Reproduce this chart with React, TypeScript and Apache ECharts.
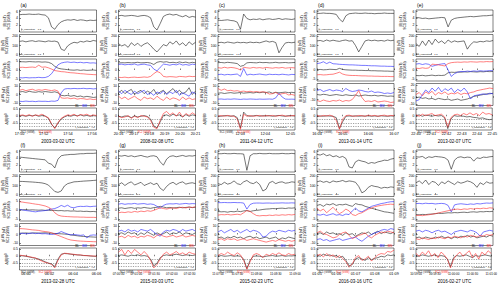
import React, { useEffect, useRef } from "react";
import * as echarts from "echarts";

// ---------- panel meta ----------
const PANEL_IDS = ["a", "b", "c", "d", "e", "f", "g", "h", "i", "j"];
const PANEL_DATES = ["2003-03-02 UTC", "2008-02-08 UTC", "2011-04-12 UTC", "2013-01-14 UTC", "2013-02-07 UTC",
  "2013-02-28 UTC", "2015-03-03 UTC", "2015-02-23 UTC", "2016-03-16 UTC", "2016-02-27 UTC"];
const PANEL_START = ["17:50:00", "20:16:00", "12:02:07", "16:04:00", "22:40:00", "05:59:27", "07:00:30", "11:07:00", "01:05:00", "10:59:00"];
const PANEL_END = ["17:56:22", "20:21:00", "12:05:11", "16:07:00", "22:45:00", "06:06:00", "07:02:40", "11:09:00", "01:09:00", "11:01:00"];
const TICKS_A = ["17:50:00", "17:52:00", "17:54:00", "17:56:00"];
const TICKS_B = ["20:16:00", "20:17:00", "20:18:00", "20:19:00", "20:20:00", "20:21:00"];
const TICKS_C = ["12:03:00", "12:04:00", "12:05:00"];
const TICKS_D = ["16:04:00", "16:05:00", "16:06:00", "16:07:00"];
const TICKS_E = ["22:40:00", "22:41:00", "22:42:00", "22:43:00", "22:44:00", "22:45:00"];
const TICKS_F = ["06:00:00", "06:02:00", "06:04:00", "06:06:00"];
const TICKS_G = ["07:00:30", "07:01:00", "07:01:30", "07:02:00", "07:02:30"];
const TICKS_H = ["11:07:00", "11:07:30", "11:08:00", "11:08:30", "11:09:00"];
const TICKS_I = ["01:05:00", "01:06:00", "01:07:00", "01:08:00", "01:09:00"];
const TICKS_J = ["10:59:00", "10:59:30", "11:00:00", "11:00:30", "11:01:00"];
const TIME_FMT = ["hm", "hm", "hm", "hm", "hm", "hm", "hms", "hms", "hm", "hms"];

// y ranges
const B1_RANGE = [0, 6.5]; const B1_TICKS = [2, 4, 6];
const B2_RANGE = [-20, 220]; const B2_TICKS = [0, 100, 200];
const L1_RANGE = [-6, 6]; const L1_TICKS = [-5, 0, 5];
const L2_MIN = [-13, -13, -13, -16, -12, -13, -13, -13, -13, -13];
const L2_MAX = [13, 13, 13, 6, 22, 13, 13, 13, 13, 13];
const L2_TICKS_STD = [-10, 0, 10];
const L2_TICKS_D = [-10, 0];
const L2_TICKS_E = [-10, 0, 10, 20];
const R_RANGE = [-1, 0.6]; const R_TICKS = [-0.5, 0, 0.5];
const DASH_LEVELS = [-0.25, -0.5, -0.75];

// ---------- data ----------
// (a)
const a1 = [5.1,5.2,5.2,5.3,5.2,5.2,5.3,5.1,5.0,4.2,1.5,0.8,2.2,3.0,3.4,3.6,3.5,3.7,3.4,3.6,3.5,3.3,3.5,3.4,3.5];
const a2 = [145,150,140,148,152,143,150,146,140,150,145,148,138,60,45,95,120,135,128,145,138,150,142,155,148];
const a3L = [4.5,4.5,4.4,4.6,4.5,4.4,4.5,4.3,4.4,4.2,3.5,2.0,1.0,0.6,0.4,0.2,0.0,-0.1,0.1,-0.2,0.0,-0.2,-0.1,0.0,-0.2];
const a3M = [-4.2,-4.3,-4.1,-4.3,-4.2,-4.2,-4.0,-4.2,-4.1,-3.5,-2.0,0.5,2.8,3.8,4.2,4.4,4.1,4.3,4.0,4.2,3.9,4.1,3.8,3.9,3.7];
const a3N = [1.4,1.5,1.3,1.5,1.6,1.4,2.6,1.5,1.7,1.2,0.5,-0.3,-0.6,-0.9,-1.0,-1.3,-1.5,-1.6,-1.8,-2.0,-2.1,-2.3,-2.4,-2.5,-2.6];
const a4L = [3,3.5,2.5,3.8,3,2.6,3.4,2.8,3.5,3,2.5,3.2,2,-1,-1.5,-1,-2,-1.2,-2.5,-1.8,-3,-2.2,-2.8,-3.5,-3];
const a4M = [-8,-8.3,-7.8,-8.2,-8,-8.4,-7.9,-8.1,-8,-8.3,-7.8,-8,-7,2,6.5,7,6.8,7.2,6.9,7,7.3,6.8,7.1,6.6,7];
const a4N = [5,6,4.5,5.5,6.2,4.8,5.6,5,6,5.2,4.6,5.4,4,-4,-4.5,-4,-5,-4.2,-5.5,-4.8,-5,-5.8,-5.2,-6,-5.5];
const a5A = [0.02,0.05,0.0,0.06,0.03,0.08,0.0,0.05,0.02,-0.15,-0.6,-0.85,-0.5,-0.2,-0.05,0.05,0.0,0.08,0.03,0.1,0.02,0.06,0.0,0.04,0.02];
const a5B = [0.05,0.1,0.02,0.12,0.0,0.1,0.05,0.15,0.0,-0.1,-0.55,-0.9,-0.45,-0.15,0.0,0.1,0.05,0.15,0.0,0.12,0.08,0.15,0.02,0.1,0.05];
// (b)
const b1 = [4.8,4.9,4.7,4.8,4.9,4.8,4.6,4.8,4.9,4.7,4.2,1.5,0.6,2.5,4.6,5.1,5.3,5.0,5.2,4.8,4.5,4.9,4.3,4.6,4.4];
const b2 = [120,95,110,80,130,100,125,90,115,130,100,60,30,70,110,95,140,115,150,105,130,95,140,110,135];
const b3L = [3.8,4.0,3.9,4.1,3.9,4.0,4.2,3.9,4.0,4.1,3.8,3.0,4.2,4.6,4.3,4.5,4.0,4.2,3.9,4.4,4.0,4.3,3.8,4.2,3.9];
const b3M = [3.0,3.2,2.8,3.1,2.9,3.3,2.7,3.0,3.2,2.8,2.5,0.5,-0.5,1.5,3.2,3.0,2.6,3.1,2.8,3.4,2.7,3.0,2.6,3.2,2.9];
const b3N = [-4.0,-4.1,-3.9,-4.2,-4.0,-3.9,-4.1,-4.0,-3.8,-4.0,-3.5,-2.0,-0.8,-1.5,-3.5,-3.8,-3.6,-3.7,-3.9,-3.5,-3.6,-3.8,-3.4,-3.6,-3.5];
const b4L = [2,5,1,4,6,0,3,5,1,4,2,6,0,3,5,1,4,7,2,5,1,3,8,0,4];
const b4M = [4,1,5,2,0,4,1,3,5,0,2,-1,3,1,4,0,3,1,5,-1,2,0,-2,3,1];
const b4N = [-2,-5,-3,-6,-4,-2,-5,-7,-3,-5,-4,-6,-2,-5,-7,-3,-6,-4,-5,-7,-3,-6,-4,-6,-5];
const b5A = [0.0,-0.05,0.02,0.0,-0.1,0.03,-0.05,0.0,0.05,-0.02,-0.2,-0.7,-0.85,-0.4,0.05,0.1,0.0,0.15,0.05,0.1,-0.05,0.12,0.0,0.1,0.05];
const b5B = [0.0,-0.1,-0.05,0.05,-0.15,0.0,-0.1,0.05,0.0,-0.05,-0.3,-0.8,-0.9,-0.3,0.2,0.35,0.1,0.25,0.0,0.3,-0.05,0.2,0.05,0.25,0.1];
// (c)
const c1 = [3.5,3.4,3.5,3.6,3.4,3.3,2.9,0.8,5.3,4.0,3.6,3.8,3.7,3.9,3.6,3.8,3.9,3.7,3.8,4.0,3.7,3.9,3.8,3.7,3.9];
const c2 = [130,135,128,138,132,126,136,130,134,128,137,131,135,129,140,150,138,145,132,20,80,128,134,130,136];
const c3L = [4.0,4.1,3.9,4.2,4.0,3.8,3.5,2.0,2.5,3.9,4.1,4.0,3.9,4.2,4.0,4.1,3.9,4.0,4.2,3.9,4.0,4.1,3.9,4.0,4.1];
const c3M = [-2.5,-2.3,-2.7,-2.4,-2.6,-2.4,-2.2,-3.5,0.8,-2.8,-2.3,-2.6,-2.4,-2.2,-2.5,-2.7,-2.3,-2.5,-2.4,-2.6,-2.3,-2.5,-2.7,-2.4,-2.5];
const c3N = [1.3,1.0,1.5,1.1,1.4,1.2,0.8,0.0,1.5,1.2,1.0,1.4,1.1,1.3,1.0,1.4,1.2,1.0,1.3,1.1,1.4,1.0,1.2,1.3,1.1];
const c4L = [1.5,2.0,1.2,1.8,2.2,1.5,1.9,2.4,1.6,2.0,2.3,1.8,2.5,2.1,2.8,2.4,3.0,1.5,2.6,2.0,2.4,2.8,2.2,2.6,2.0];
const c4M = [-5.5,-5.3,-5.7,-5.4,-5.6,-5.2,-5.5,-5.8,-5.4,-5.6,-5.3,-5.5,-5.7,-5.4,-5.6,-5.5,-5.3,-5.6,-4,1.5,-3,-5.4,-5.6,-5.5,-5.7];
const c4N = [7,5,6.5,4.5,5,4,4.5,3.5,4,3.2,3.8,3,3.5,2.8,3.2,2.5,0.5,1,2.5,0,1,1.5,-0.5,0,-1];
const c5A = [0.02,0.0,0.05,0.03,0.0,0.04,-0.1,-0.85,0.3,0.05,0.0,0.03,0.06,0.0,0.04,0.02,0.05,0.0,0.03,0.06,0.02,0.0,0.05,0.03,0.02];
const c5B = [0.0,0.05,0.0,0.06,0.02,0.0,-0.2,-0.95,0.15,0.0,0.05,0.0,0.03,0.06,0.0,0.05,0.02,0.06,0.0,0.04,0.08,0.02,0.0,0.05,0.04];
// (d)
const d1 = [5.5,5.5,5.6,5.5,5.5,5.4,5.2,3.8,3.0,4.8,5.4,5.5,5.6,5.5,5.5,5.6,5.5,5.5,5.4,5.5,5.5,5.6,5.5,5.5,5.5];
const d2 = [150,155,145,160,148,158,150,145,155,160,148,152,100,30,90,150,160,152,158,150,155,148,160,152,158];
const d3L = [0.2,0.3,0.1,0.2,0.4,0.3,0.2,0.9,0.3,0.1,0.0,-0.1,-0.1,-0.2,-0.2,-0.3,-0.3,-0.4,-0.4,-0.5,-0.5,-0.6,-0.6,-0.7,-0.7];
const d3M = [3.5,3.8,4.5,3.5,4.3,3.4,3.3,3.1,3.0,2.9,2.8,2.8,2.7,2.6,2.5,2.5,2.4,2.3,2.3,2.2,2.1,2.1,2.0,2.0,1.9];
const d3N = [-2.6,-2.5,-2.7,-2.6,-2.4,-2.3,-1.8,-1.2,-2.2,-2.7,-2.9,-3.0,-3.0,-3.1,-3.2,-3.2,-3.3,-3.3,-3.4,-3.4,-3.5,-3.5,-3.5,-3.6,-3.6];
const d4L = [-5,-5.5,-4.8,-5.2,-6,-5.5,-5,-5.6,-6,-5.2,-5.8,-6,-5.5,-6.5,-6,-5.5,-6,-6.2,-5.8,-6.5,-6,-6.3,-6.8,-6.5,-6.8];
const d4M = [-1,0,-2,-1,0,-1.5,-0.5,-1,-2,1,-1,-2,-1.5,-0.5,-1,-2,-2.5,-1.5,-3,-2.5,-3,-4,-3.5,-4,-3];
const d4N = [-11,-12,-10.5,-11.5,-12,-11,-11.5,-10.5,-12,-11,-11.5,-10,-6,-1,-8,-12,-11.5,-12,-11,-12.5,-12,-11.5,-12,-13,-12.5];
const d5A = [0.0,0.02,0.0,0.03,0.01,0.0,-0.1,-0.9,-0.4,0.0,0.02,0.0,0.03,0.0,0.02,0.01,0.03,0.0,0.02,0.0,0.03,0.01,0.0,0.02,0.01];
const d5B = [0.05,0.0,0.06,0.02,0.08,0.0,-0.3,-0.95,-0.2,0.05,0.08,0.02,0.0,0.06,0.04,0.0,0.08,0.03,0.06,0.0,0.05,0.08,0.02,0.06,0.04];
// (e)
const e1 = [4.3,4.2,4.0,4.1,3.9,4.0,4.1,4.2,4.3,4.2,1.5,3.5,4.0,4.2,4.3,4.4,4.5,4.6,4.5,4.6,4.7,4.8,4.8,4.9,5.0];
const e2 = [120,90,150,100,160,110,170,130,150,120,160,135,150,140,145,150,60,110,140,135,145,140,150,145,155];
const e3L = [-3.0,-3.1,-2.9,-3.2,-3.0,-2.8,-3.1,-2.9,-3.0,-2.8,-1.5,-1.2,-1.3,-1.1,-1.2,-1.0,-1.1,-0.9,-1.0,-1.1,-0.9,-1.0,-0.8,-0.9,-0.8];
const e3M = [3.2,3.5,3.0,3.4,3.1,2.0,2.5,3.0,3.3,3.5,0.0,-3.5,-2.0,-1.2,-0.8,-0.9,-0.6,-0.8,-0.5,-0.7,-0.4,-0.6,-0.5,-0.3,-0.4];
const e3N = [1.0,0.8,1.2,0.9,1.1,3.2,3.0,2.8,2.5,2.2,3.5,4.0,4.2,4.3,4.2,4.4,4.3,4.5,4.4,4.3,4.5,4.4,4.6,4.5,4.6];
const e4L = [0,1,-1,0,-2,-1,-3,-1,-2,-3,-2,-4,-3,-2,-4,-3,-2,0,2,3,4,5,6,6,7];
const e4M = [-5,-3,5,12,8,15,10,16,9,14,11,15,8,13,10,15,9,-2,3,4,5,6,5,7,6];
const e4N = [5,8,3,9,6,10,4,8,6,9,5,7,6,8,5,7,6,8,9,11,12,13,14,15,14];
const e5A = [0.05,0.1,0.0,0.08,0.05,0.0,0.06,0.02,0.05,-0.1,-0.9,-0.2,0.05,0.0,0.02,0.0,-0.05,-0.02,-0.08,-0.1,-0.15,-0.12,-0.2,-0.25,-0.22];
const e5B = [0.1,0.0,0.15,0.05,0.12,0.2,0.05,0.1,0.15,-0.05,-0.8,-0.1,0.1,0.15,0.05,0.2,0.1,0.25,0.1,0.2,0.05,0.3,0.15,0.2,0.1];
// (f)
const f1 = [4.4,4.3,4.2,4.1,4.0,3.9,3.8,3.7,3.6,2.6,2.3,1.2,3.8,4.8,5.0,5.1,5.2,5.2,5.3,5.4,5.4,5.5,5.5,5.5,5.6];
const f2 = [145,144,142,140,138,135,132,128,120,105,70,35,25,40,95,120,130,140,142,145,148,150,152,155,158];
const f3L = [0.2,0.1,0.2,0.0,0.1,0.0,-0.1,0.0,-0.2,-0.1,-0.3,-0.2,-0.4,-0.3,-0.5,-0.4,-0.6,-0.5,-0.7,-0.6,-0.8,-0.7,-0.9,-0.8,-1.0];
const f3M = [0.3,0.0,-0.3,-0.5,-0.8,-1.0,-0.7,-0.5,-0.3,0.0,0.5,0.8,1.5,2.5,1.8,2.6,1.5,1.2,1.8,2.0,1.9,2.1,1.8,2.0,2.1];
const f3N = [4.5,4.3,4.0,3.8,3.5,3.2,3.0,2.6,2.2,1.5,0.5,-1.5,-2.8,-3.3,-3.5,-3.6,-3.7,-3.8,-3.8,-3.9,-3.9,-4.0,-4.0,-4.0,-4.1];
const f4L = [1.5,1.6,1.8,1.5,1.7,1.9,1.6,1.8,2.0,1.7,1.5,1.2,1.0,0.8,0.5,0.2,-0.5,-1.0,-1.5,-2.0,-2.3,-2.5,-2.8,-3.0,-3.2];
const f4M = [1.0,1.5,0.8,1.2,1.8,1.0,1.5,0.8,1.0,0.5,0.0,0.5,1.5,3.5,2.0,0.5,-0.5,0.0,-0.5,-1.0,-0.5,-4.0,-1.0,-0.5,-0.8];
const f4N = [7,6.8,6.5,6.0,5.5,5.2,4.8,4.0,3.5,3.0,2.0,0.5,-1.0,-2.5,-4.0,-5.5,-6.5,-7,-7.5,-7.8,-8,-8.2,-8.3,-8.5,-8.6];
const f5A = [0.05,0.03,0.0,-0.05,-0.1,-0.15,-0.2,-0.3,-0.4,-0.5,-0.55,-0.75,-0.2,0.15,0.2,0.18,0.15,0.12,0.1,0.08,0.05,0.05,0.02,0.0,0.0];
const f5B = [0.08,0.05,0.02,-0.03,-0.08,-0.12,-0.25,-0.35,-0.45,-0.5,-0.6,-0.85,-0.3,0.1,0.22,0.2,0.16,0.14,0.1,0.1,0.06,0.04,0.03,0.02,0.0];
// (g)
const g1 = [4.8,4.7,4.9,4.6,4.8,4.5,4.7,4.9,4.6,4.4,4.7,4.8,4.5,3.0,2.0,3.8,4.6,4.8,4.5,4.7,4.9,4.6,4.8,4.7,4.9];
const g2 = [110,130,100,125,140,105,120,135,100,115,130,110,125,70,45,90,120,135,110,130,140,115,125,130,120];
const g3L = [1.0,1.2,0.8,1.1,1.3,0.9,1.2,1.0,1.4,1.1,0.9,1.3,1.5,2.0,1.6,1.2,1.4,1.1,1.3,1.5,1.2,1.4,1.6,1.3,1.5];
const g3M = [3.2,3.5,3.1,3.4,3.3,3.6,3.2,3.4,3.5,3.1,3.3,3.0,2.0,1.0,2.5,3.2,3.4,3.3,3.5,3.2,3.4,3.6,3.3,3.5,3.4];
const g3N = [-1.5,-1.2,-1.4,-1.0,-1.3,-0.8,-1.1,-0.6,-0.9,-0.4,-0.7,-0.2,0.5,1.2,0.8,0.5,0.9,1.2,0.8,1.3,1.5,1.1,1.6,1.4,1.8];
const g4L = [1,2,0,3,1,2,-1,2,0,3,1,-1,2,0,1,3,0,2,1,3,0,2,1,0,2];
const g4M = [4,5,3,6,4,5,3,6,5,4,6,3,0,-2,3,5,4,6,5,3,6,4,5,6,4];
const g4N = [-3,-2,-4,-1,-3,-2,-4,-2,-3,-1,-2,-4,-1,0,-2,-3,-2,-1,-3,-2,-1,-3,-2,-1,-2];
const g5A = [0.05,0.1,0.05,0.0,0.08,0.05,0.1,0.02,0.05,0.0,-0.2,-0.7,-0.5,-0.1,0.05,0.1,0.05,0.1,0.15,0.1,0.05,0.1,0.08,0.05,0.1];
const g5B = [0.3,0.5,0.1,0.45,0.2,0.5,0.3,0.1,0.35,0.1,-0.3,-0.85,-0.6,-0.2,0.15,0.3,0.1,0.2,0.35,0.15,0.25,0.1,0.3,0.2,0.15];
// (h)
const h1 = [5.4,5.4,5.5,5.4,5.4,5.5,5.4,5.4,5.3,0.5,4.8,5.4,5.4,5.5,5.4,5.4,5.5,5.4,5.4,5.4,5.5,5.4,5.4,5.5,5.4];
const h2 = [120,110,135,115,125,150,120,110,140,155,130,120,140,110,40,60,130,145,120,135,140,125,130,140,135];
const h3L = [-0.8,-1.0,-0.9,-1.2,-0.8,-1.0,-0.6,-0.9,-0.5,-0.3,-0.8,-0.4,-0.2,0.0,0.3,0.5,0.6,0.8,0.7,0.9,1.0,0.8,1.1,1.0,1.2];
const h3M = [4.0,4.0,4.1,4.0,4.0,4.1,4.0,4.0,3.8,0.5,3.0,3.7,3.8,3.8,3.7,3.8,3.8,3.7,3.8,3.8,3.9,3.8,3.8,3.9,3.8];
const h3N = [-2.8,-2.5,-2.6,-2.4,-2.7,-2.5,-2.3,-2.6,-1.5,-0.3,-0.8,-2.0,-3.0,-3.2,-3.0,-3.1,-2.8,-3.0,-2.7,-2.9,-2.6,-2.8,-2.5,-2.7,-2.4];
const h4L = [-4,-3,-5,-3,-4,-2,-4,-3,-5,-3,-2,-4,-3,-5,-4,-3,-5,-4,-3,-6,-4,-5,-3,-4,-5];
const h4M = [3,5,2,4,6,3,5,2,4,6,3,5,4,2,-3,-2,2,4,3,5,4,3,5,4,5];
const h4N = [-6,-5,-7,-5,-6,-5,-7,-6,-5,-7,-6,-5,-6,-7,-8,-9,-8,-7,-8,-6,-7,-8,-7,-8,-7];
const h5A = [0.0,0.05,0.0,0.02,0.05,0.0,0.03,0.0,-0.2,-0.9,-0.3,0.0,0.02,0.0,-0.05,0.0,0.03,0.05,0.0,0.02,0.05,0.0,0.03,0.02,0.05];
const h5B = [0.05,0.2,0.1,0.3,0.15,0.05,0.25,0.1,-0.3,-0.95,-0.4,0.1,0.2,0.1,-0.1,0.15,0.05,0.2,0.1,0.25,0.1,0.05,0.2,0.1,0.15];
// (i)
const i1 = [5.2,5.0,5.4,4.8,5.1,4.5,4.8,4.3,4.6,4.0,1.5,1.2,3.0,3.5,3.2,3.0,2.5,2.8,2.6,3.0,3.2,3.5,3.4,3.8,4.0];
const i2 = [140,150,135,145,130,150,140,145,155,140,150,145,135,90,20,40,80,100,90,85,70,80,75,85,80];
const i3L = [2.5,3.0,2.0,3.2,2.8,3.5,2.5,3.0,2.8,3.2,2.5,2.0,3.5,3.0,2.8,2.0,1.5,1.0,0.5,0.0,-0.5,-1.0,-1.2,-1.5,-1.8];
const i3M = [-2.5,-2.8,-2.3,-3.0,-2.5,-2.0,-2.8,-2.5,-3.0,-2.2,-2.5,-0.5,1.0,-0.5,-1.0,0.0,1.0,2.0,2.5,3.0,3.5,3.8,4.2,4.5,4.6];
const i3N = [1.0,-0.5,0.5,-1.5,0.0,1.5,-0.5,-2.0,-1.0,0.5,-0.5,-2.5,-3.0,-2.0,-1.5,-0.5,0.5,1.0,1.8,2.2,2.5,2.8,3.0,3.2,3.0];
const i4L = [1,2,0,3,1,2,0,1,-1,2,0,1,-2,0,2,1,3,0,2,4,1,3,2,1,3];
const i4M = [-6,-5,-7,-6,-8,-7,-6,-5,-7,-6,-5,-4,-3,-6,-8,-5,-2,0,2,3,5,6,5,7,6];
const i4N = [2,4,1,0,-2,-4,-3,0,2,3,-1,-5,-3,-1,0,2,-2,-4,-1,1,3,2,4,3,2];
const i5A = [0.1,0.0,0.15,0.05,0.1,0.0,0.05,-0.1,0.0,-0.3,-0.7,-0.6,-0.2,-0.1,-0.2,-0.3,-0.1,-0.25,-0.15,-0.1,0.0,-0.05,0.1,0.05,0.1];
const i5B = [0.05,0.15,-0.05,0.2,0.0,0.1,-0.1,0.05,-0.15,-0.4,-0.8,-0.55,-0.1,0.05,-0.3,-0.2,0.0,-0.35,-0.1,0.1,0.2,0.15,0.35,0.3,0.45];
// (j)
const j1 = [4.5,4.4,4.6,4.0,4.5,4.3,4.6,4.5,4.4,4.2,3.5,0.8,3.5,4.3,4.5,4.2,4.4,4.3,3.2,4.2,4.0,4.4,4.3,4.5,4.6];
const j2 = [130,150,120,160,110,145,135,100,140,120,150,130,110,140,125,135,150,140,120,80,130,110,140,125,130];
const j3L = [-2.5,-2.6,-2.4,-2.5,-2.3,-2.2,-2.0,-1.8,-1.9,-1.7,-1.5,-1.6,-1.4,-1.5,-1.3,-1.2,-1.4,-1.1,-1.0,-1.2,-0.9,-1.0,-0.8,-0.9,-0.7];
const j3M = [3.5,3.6,3.4,3.7,3.5,3.6,3.3,3.5,3.6,3.4,2.5,-1.0,2.8,3.2,3.4,3.2,3.0,3.3,3.1,3.5,3.3,3.6,3.8,3.7,3.9];
const j3N = [-3.0,-2.9,-3.1,-2.8,-2.6,-2.3,-2.0,-1.6,-1.2,-0.8,-0.4,0.0,0.3,0.5,0.2,0.6,0.4,0.8,0.5,0.9,0.7,1.0,0.8,1.2,1.0];
const j4L = [-4,-3,-5,-3,-4,-5,-3,-4,-2,-4,-3,-5,-3,-4,-2,-3,-1,-3,-2,-4,-3,-2,-3,-1,-2];
const j4M = [4,5,3,5,4,2,4,5,3,4,2,0,3,4,5,4,3,5,4,2,-2,3,4,5,4];
const j4N = [-5,-6,-4,-5,-6,-4,-5,-3,-4,-5,-3,-4,-2,-3,-4,-2,-3,-1,-2,-3,-1,-2,0,-1,0];
const j5A = [0.05,0.0,0.1,0.05,0.0,0.05,0.1,0.0,0.05,0.0,-0.2,-0.75,-0.1,0.05,0.0,0.05,0.1,0.0,-0.1,0.05,0.0,0.05,0.1,0.05,0.0];
const j5B = [0.2,0.0,0.3,0.1,0.4,0.0,0.2,-0.1,0.3,0.1,-0.2,-0.85,-0.2,0.1,0.3,0.0,0.2,0.4,-0.1,0.2,-0.2,0.3,0.1,0.4,0.2];

// ---------- table assembled from the arrays ----------
const PANELS = [
  { ticks: TICKS_A, b1: a1, b2: a2, l1: [a3L, a3M, a3N], l2: [a4L, a4M, a4N], r: [a5A, a5B], l2t: L2_TICKS_STD },
  { ticks: TICKS_B, b1: b1, b2: b2, l1: [b3L, b3M, b3N], l2: [b4L, b4M, b4N], r: [b5A, b5B], l2t: L2_TICKS_STD },
  { ticks: TICKS_C, b1: c1, b2: c2, l1: [c3L, c3M, c3N], l2: [c4L, c4M, c4N], r: [c5A, c5B], l2t: L2_TICKS_STD },
  { ticks: TICKS_D, b1: d1, b2: d2, l1: [d3L, d3M, d3N], l2: [d4L, d4M, d4N], r: [d5A, d5B], l2t: L2_TICKS_D },
  { ticks: TICKS_E, b1: e1, b2: e2, l1: [e3L, e3M, e3N], l2: [e4L, e4M, e4N], r: [e5A, e5B], l2t: L2_TICKS_E },
  { ticks: TICKS_F, b1: f1, b2: f2, l1: [f3L, f3M, f3N], l2: [f4L, f4M, f4N], r: [f5A, f5B], l2t: L2_TICKS_STD },
  { ticks: TICKS_G, b1: g1, b2: g2, l1: [g3L, g3M, g3N], l2: [g4L, g4M, g4N], r: [g5A, g5B], l2t: L2_TICKS_STD },
  { ticks: TICKS_H, b1: h1, b2: h2, l1: [h3L, h3M, h3N], l2: [h4L, h4M, h4N], r: [h5A, h5B], l2t: L2_TICKS_STD },
  { ticks: TICKS_I, b1: i1, b2: i2, l1: [i3L, i3M, i3N], l2: [i4L, i4M, i4N], r: [i5A, i5B], l2t: L2_TICKS_STD },
  { ticks: TICKS_J, b1: j1, b2: j2, l1: [j3L, j3M, j3N], l2: [j4L, j4M, j4N], r: [j5A, j5B], l2t: L2_TICKS_STD },
];

// ---------- layout / style ----------
const COL_LEFT = [19.5, 118.5, 218, 317, 416];
const PW = 77;
const PH = 22;
const ROW_TOPS = [[10, 34.5, 59, 83.5, 108], [150, 174.5, 199, 223.5, 248]];
const K = "#1a1a1a";
const BLUE = "#2020ff";
const RED = "#ff2a2a";
const FONT = "Liberation Sans, Arial, sans-serif";

const toSec = (s: string) => {
  const [h, m, x] = s.split(":").map(Number);
  return h * 3600 + m * 60 + x;
};
const pad = (n: number) => (n < 10 ? "0" : "") + n;
const fmtTime = (v: number, f: string) => {
  const t = Math.round(v);
  const h = Math.floor(t / 3600), m = Math.floor((t % 3600) / 60), s = t % 60;
  return f === "hms" ? `${pad(h)}:${pad(m)}:${pad(s)}` : `${pad(h)}:${pad(m)}`;
};

const Y_NAMES = [
  "{n||B| (nT)}\n{n|SC1 (GSM)}",
  "{n||B| (nT)}\n{n|SC2 (GSM)}",
  "{n|B}{s|LMN}{n| (nT)}\n{n|SC1 (GSM)}",
  "{n|B}{s|LMN}{n| (nT)}\n{n|SC2 (GSM)}",
  "{n|Δ|B|/B}{s|0}",
];

function buildOption() {
  const grid: any[] = [], xAxis: any[] = [], yAxis: any[] = [], series: any[] = [], graphic: any[] = [];
  PANELS.forEach((p, pi) => {
    const col = pi % 5, row = Math.floor(pi / 5);
    const left = COL_LEFT[col];
    const tops = ROW_TOPS[row];
    const t0 = toSec(PANEL_START[pi]), t1 = toSec(PANEL_END[pi]);
    const ticks = p.ticks.map(toSec);
    const f = TIME_FMT[pi];
    const subs = [
      { lines: [p.b1], colors: [K], min: B1_RANGE[0], max: B1_RANGE[1], yt: B1_TICKS },
      { lines: [p.b2], colors: [K], min: B2_RANGE[0], max: B2_RANGE[1], yt: B2_TICKS },
      { lines: p.l1, colors: [K, BLUE, RED], min: L1_RANGE[0], max: L1_RANGE[1], yt: L1_TICKS },
      { lines: p.l2, colors: [K, BLUE, RED], min: L2_MIN[pi], max: L2_MAX[pi], yt: p.l2t },
      { lines: p.r, colors: [K, RED], min: R_RANGE[0], max: R_RANGE[1], yt: R_TICKS },
    ];
    graphic.push({ type: "text", x: left + 1, y: tops[0] - 8, style: { text: `(${PANEL_IDS[pi]})`, fontSize: 5, fill: "#000", fontFamily: FONT } });
    const plotBottom = tops[4] + PH;
    graphic.push({
      type: "text", x: left + PW / 2, y: plotBottom + 8.8,
      style: { text: PANEL_DATES[pi], fontSize: 4.5, fill: "#000", fontFamily: FONT, align: "center", verticalAlign: "top" },
    });
    subs.forEach((sp, si) => {
      const gi = grid.length;
      const top = tops[si];
      grid.push({ left, top, width: PW, height: PH, show: true, borderColor: "#000", borderWidth: 0.5, backgroundColor: "#fff", containLabel: false });
      xAxis.push({
        type: "value", gridIndex: gi, min: t0, max: t1,
        axisLine: { show: false },
        axisTick: { show: true, inside: true, length: 1.5, customValues: ticks, lineStyle: { color: "#000", width: 0.5 } },
        axisLabel: { show: si === 4, customValues: ticks, formatter: (v: number) => fmtTime(v, f), fontSize: f === "hms" ? 3.0 : 3.8, margin: 2.2, color: "#000", fontFamily: FONT },
        splitLine: { show: false },
      });
      yAxis.push({
        type: "value", gridIndex: gi, min: sp.min, max: sp.max,
        axisLine: { show: false },
        axisTick: { show: true, inside: true, length: 1.5, customValues: sp.yt, lineStyle: { color: "#000", width: 0.5 } },
        axisLabel: { customValues: sp.yt, fontSize: 3.4, margin: 1.5, color: "#000", fontFamily: FONT },
        splitLine: { show: false },
        name: Y_NAMES[si], nameLocation: "middle", nameRotate: 90, nameGap: 9,
        nameTextStyle: { fontFamily: FONT, rich: { n: { fontSize: 3.4, color: "#000", lineHeight: 4, fontFamily: FONT }, s: { fontSize: 2.6, color: "#000", lineHeight: 4, fontFamily: FONT } } },
      });
      sp.lines.forEach((vals, li) => {
        const n = vals.length;
        series.push({
          type: "line", xAxisIndex: gi, yAxisIndex: gi, showSymbol: false, symbol: "none", silent: true,
          lineStyle: { color: sp.colors[li], width: 0.6 },
          data: vals.map((v, i) => [t0 + (i * (t1 - t0)) / (n - 1), v]),
          markLine: si === 4 && li === 0 ? {
            silent: true, symbol: "none", label: { show: false },
            lineStyle: { color: "#444", type: [1.2, 1.2], width: 0.5 },
            data: DASH_LEVELS.map((y) => ({ yAxis: y })),
          } : undefined,
        });
      });
      const bottom = top + PH;
      if (si === 0 || si === 1) {
        graphic.push({ type: "line", shape: { x1: left + 2, y1: bottom - 1.5, x2: left + 2, y2: bottom - 3.5 }, style: { stroke: "#000", lineWidth: 0.4 } });
        graphic.push({ type: "text", x: left + 2.5, y: bottom - 4, style: { text: "t_resolution = 1 s", fontSize: 2.5, fill: "#000", fontFamily: FONT } });
      }
      if (si === 3) {
        graphic.push({
          type: "text", x: left + PW - 2, y: bottom - 5.5,
          style: {
            text: "{k|B}{ks|L} {b|B}{bs|M} {r|B}{rs|N}", align: "right", fontFamily: FONT,
            rich: {
              k: { fill: K, fontSize: 3.6 }, ks: { fill: K, fontSize: 2.6 },
              b: { fill: BLUE, fontSize: 3.6 }, bs: { fill: BLUE, fontSize: 2.6 },
              r: { fill: RED, fontSize: 3.6 }, rs: { fill: RED, fontSize: 2.6 },
            },
          },
        });
      }
      if (si === 4) {
        graphic.push({
          type: "text", x: left + 1.5, y: bottom - 4,
          style: { text: "{k|SC1 (GSM),} {r|SC2 (GSM)}", fontFamily: FONT, rich: { k: { fill: K, fontSize: 2.6 }, r: { fill: RED, fontSize: 2.6 } } },
        });
        graphic.push({ type: "text", x: left + PW - 2, y: bottom - 4, style: { text: "t_resolution = 4 s", align: "right", fontSize: 2.5, fill: "#000", fontFamily: FONT } });
      }
    });
  });
  return { animation: false, backgroundColor: "#fff", grid, xAxis, yAxis, series, graphic, textStyle: { fontFamily: FONT } };
}

export default function App() {
  const ref = useRef<HTMLDivElement>(null);
  useEffect(() => {
    if (!ref.current) return;
    const chart = echarts.init(ref.current, undefined, { renderer: "svg" });
    chart.setOption(buildOption() as any);
    return () => chart.dispose();
  }, []);
  return <div ref={ref} style={{ position: "fixed", left: 0, top: 0, width: 500, height: 290, background: "#fff" }} />;
}
